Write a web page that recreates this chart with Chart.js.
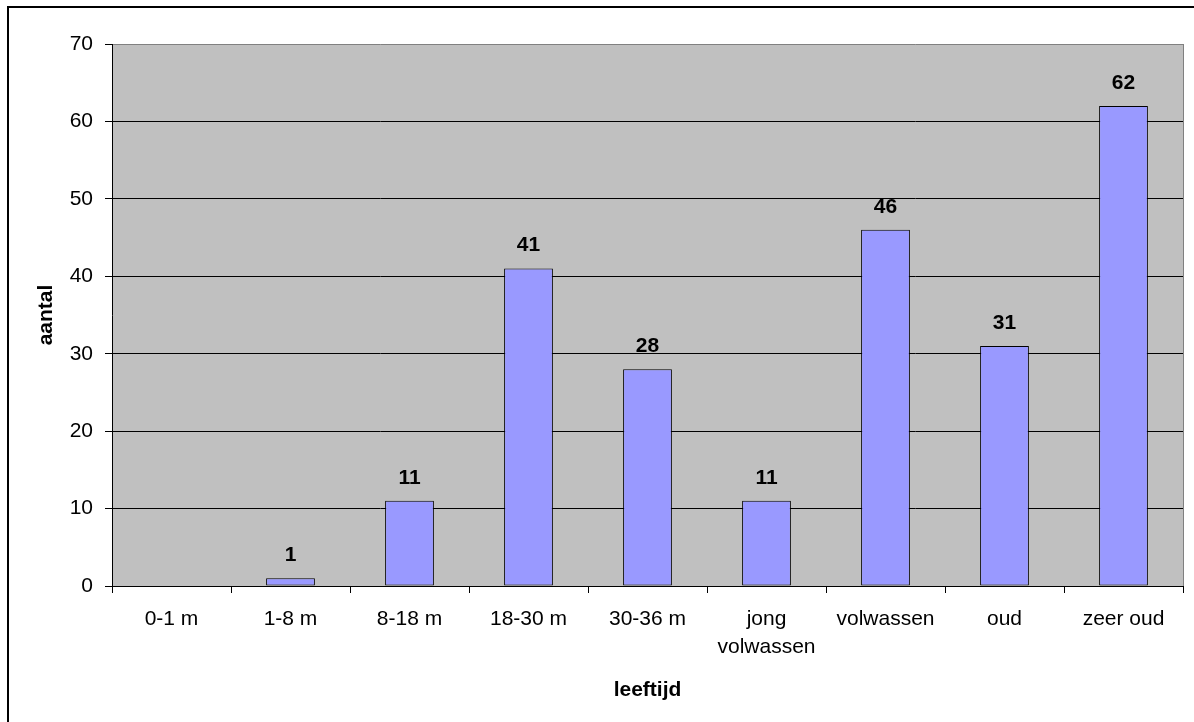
<!DOCTYPE html>
<html>
<head>
<meta charset="utf-8">
<script src="https://cdn.jsdelivr.net/npm/chart.js@4/dist/chart.umd.min.js"></script>
<style>
  html, body { margin: 0; padding: 0; background: #fff; }
  canvas { display: block; }
</style>
</head>
<body>
<canvas id="chart" width="1194" height="722"></canvas>
<script>
// Age groups and the number of animals in each
const categories = ['0-1 m', '1-8 m', '8-18 m', '18-30 m', '30-36 m', ['jong', 'volwassen'], 'volwassen', 'oud', 'zeer oud'];
const aantal = [0, 1, 11, 41, 28, 11, 46, 31, 62];
const yTicks = [0, 10, 20, 30, 40, 50, 60, 70];

const FONT = '"Liberation Sans", Arial, sans-serif';

// Grey plot area and white page behind everything
const backgroundPlugin = {
  id: 'backgroundPlugin',
  beforeDraw(chart) {
    const { ctx, chartArea: a } = chart;
    ctx.save();
    ctx.fillStyle = '#ffffff';
    ctx.fillRect(0, 0, chart.width, chart.height);
    ctx.fillStyle = '#C0C0C0';
    ctx.fillRect(a.left, a.top, a.right - a.left, a.bottom - a.top);
    ctx.restore();
  },
  afterDraw(chart) {
    const { ctx, chartArea: a } = chart;
    ctx.save();
    // right edge of the plot area
    ctx.strokeStyle = '#808080';
    ctx.lineWidth = 1;
    ctx.beginPath();
    ctx.moveTo(Math.round(a.right) + 0.5, a.top);
    ctx.lineTo(Math.round(a.right) + 0.5, a.bottom);
    ctx.stroke();
    // frame around the whole chart
    ctx.strokeStyle = '#000000';
    ctx.lineWidth = 2;
    ctx.strokeRect(8, 7, 1240, 800);
    ctx.restore();
  }
};

// Value written above each bar
const valueLabels = {
  id: 'valueLabels',
  afterDatasetsDraw(chart) {
    const { ctx } = chart;
    const meta = chart.getDatasetMeta(0);
    ctx.save();
    ctx.font = 'bold 21px ' + FONT;
    ctx.fillStyle = '#000';
    ctx.textAlign = 'center';
    ctx.textBaseline = 'middle';
    meta.data.forEach((bar, i) => {
      const v = chart.data.datasets[0].data[i];
      if (!v) return;
      ctx.fillText(String(v), bar.x, bar.y - 23);
    });
    ctx.restore();
  }
};

new Chart(document.getElementById('chart'), {
  type: 'bar',
  data: {
    labels: categories,
    datasets: [{
      data: aantal,
      backgroundColor: '#9999FF',
      borderColor: '#000000',
      borderWidth: 1,
      borderSkipped: false,
      barPercentage: 0.41,
      categoryPercentage: 1.0
    }]
  },
  options: {
    responsive: false,
    animation: false,
    devicePixelRatio: 1,
    layout: { padding: { left: 0, top: 44, right: 11, bottom: 0 } },
    plugins: {
      legend: { display: false },
      tooltip: { enabled: false }
    },
    scales: {
      x: {
        offset: true,
        grid: {
          display: true,
          offset: true,
          drawOnChartArea: false,
          drawTicks: true,
          tickLength: 7,
          color: '#000000',
          tickColor: '#000000'
        },
        border: { display: true, color: '#000000', width: 1 },
        ticks: {
          color: '#000000',
          font: { family: FONT, size: 21, lineHeight: 1.3 },
          padding: 13,
          maxRotation: 0,
          minRotation: 0,
          autoSkip: false
        },
        title: {
          display: true,
          text: 'leeftijd',
          color: '#000000',
          font: { family: FONT, size: 21, weight: 'bold', lineHeight: 1.2 },
          padding: { top: 19, bottom: 19 }
        },
        afterFit(scale) { scale.height = 136; }
      },
      y: {
        min: 0,
        max: 70,
        afterBuildTicks(scale) { scale.ticks = yTicks.map(v => ({ value: v })); },
        grid: {
          display: true,
          drawTicks: true,
          tickLength: 7,
          color: ctx => (ctx.tick && ctx.tick.value === 70 ? '#808080' : '#000000'),
          tickColor: '#000000',
          lineWidth: 1
        },
        border: { display: true, color: '#000000', width: 1 },
        ticks: {
          color: '#000000',
          font: { family: FONT, size: 21 },
          padding: 12
        },
        title: {
          display: true,
          text: 'aantal',
          color: '#000000',
          font: { family: FONT, size: 21, weight: 'bold', lineHeight: 1.2 },
          padding: { top: 34, bottom: 0 }
        },
        afterFit(scale) { scale.width = 112; }
      }
    }
  },
  plugins: [backgroundPlugin, valueLabels]
});
</script>
</body>
</html>
